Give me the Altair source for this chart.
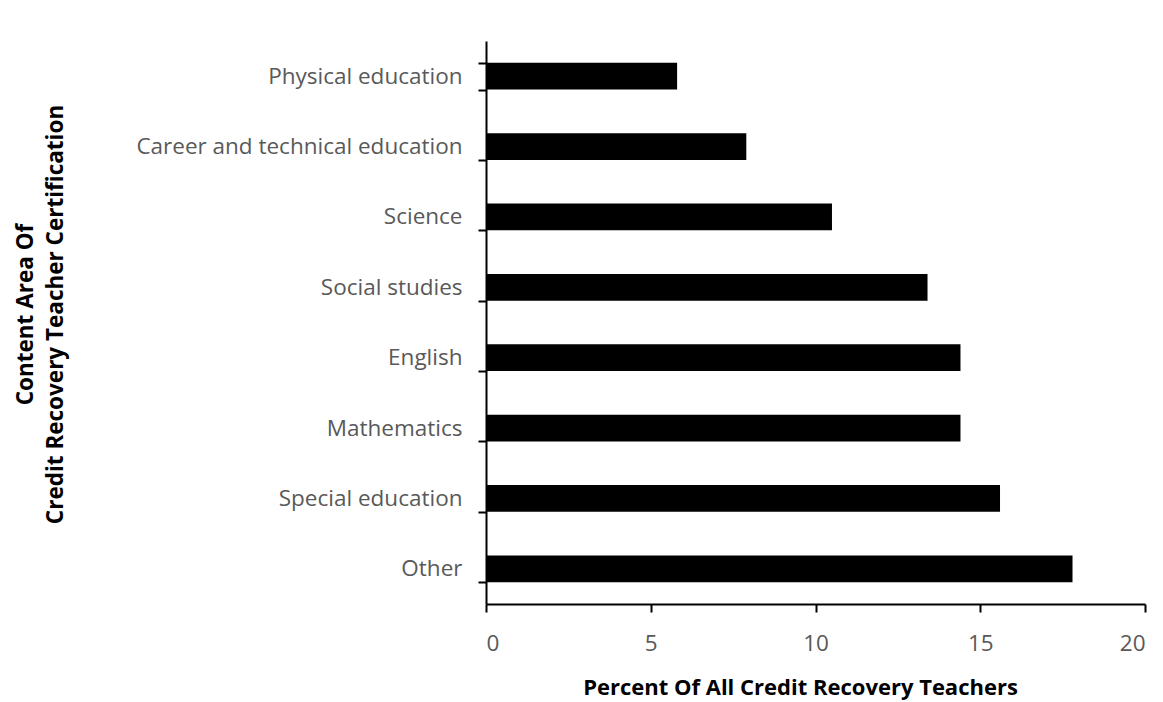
import altair as alt
import pandas as pd

categories = ["Physical education", "Career and technical education", "Science",
              "Social studies", "English", "Mathematics", "Special education", "Other"]
values = [5.8, 7.9, 10.5, 13.4, 14.4, 14.4, 15.6, 17.8]

df = pd.DataFrame({"category": categories, "value": values})

FONT = "Open Sans"
W, H = 659, 563

chart = alt.Chart(df).mark_bar(color="black").encode(
    x=alt.X("value:Q",
            scale=alt.Scale(domain=[0, 20], nice=False, zero=True),
            axis=alt.Axis(values=[0, 5, 10, 15, 20], grid=False,
                          title="Percent Of All Credit Recovery Teachers",
                          titleFont=FONT, titleFontSize=22, titleFontWeight="bold",
                          titleColor="black", titleX=314, titleY=83,
                          titleBaseline="middle", titleAlign="center",
                          labelFont=FONT, labelFontSize=22.5, labelColor="#595959",
                          labelPadding=20, domainColor="black", domainWidth=2,
                          tickColor="black", tickWidth=2, tickSize=8)),
    y=alt.Y("category:N", sort=categories,
            scale=alt.Scale(paddingInner=0.62, paddingOuter=0.31),
            axis=alt.Axis(grid=False, tickBand="extent", labelLimit=500,
                          title=["Content Area Of", "Credit Recovery Teacher Certification"],
                          titleFont=FONT, titleFontSize=22.5, titleFontWeight="bold",
                          titleColor="black", titleLineHeight=30,
                          titleX=-461, titleY=273, titleAngle=270,
                          titleBaseline="middle", titleAlign="center",
                          labelFont=FONT, labelFontSize=22.5, labelColor="#595959",
                          labelPadding=16, domainColor="black", domainWidth=2,
                          tickColor="black", tickWidth=2, tickSize=8)),
).properties(
    width=W, height=H,
    padding={"left": 6, "top": 22, "right": 5, "bottom": 2},
).configure_view(stroke=None)

chart.save("out.html", embed_options={"renderer": "svg", "actions": False})
